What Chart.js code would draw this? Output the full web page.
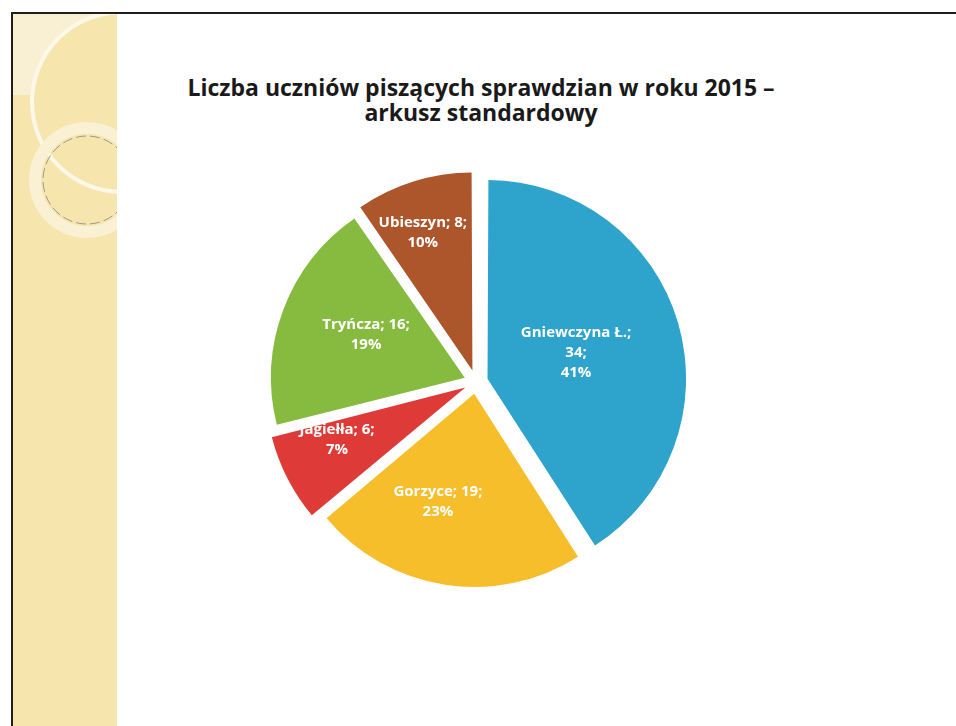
<!DOCTYPE html>
<html>
<head>
<meta charset="utf-8">
<script src="https://cdn.jsdelivr.net/npm/chart.js@4/dist/chart.umd.min.js"></script>
<style>
  html, body { margin: 0; padding: 0; background: #ffffff; }
  body { width: 956px; height: 726px; position: relative; overflow: hidden; }
  #strip { position: absolute; left: 13px; top: 13px; width: 104px; height: 713px; background: #f6e5ad; overflow: hidden; }
  #deco { position: absolute; left: 0; top: 0; }
  #vline { position: absolute; left: 11px; top: 12px; width: 2px; height: 714px; background: #1e1e1e; }
  #hline { position: absolute; left: 11px; top: 12px; width: 945px; height: 2px; background: #1e1e1e; }
  #title { position: absolute; left: 81px; top: 75px; width: 800px; text-align: center;
           font-family: "Open Sans", Lato, sans-serif; font-weight: bold; font-size: 23px; line-height: 25px; color: #1a1a1a; }
  #chartBox { position: absolute; left: 236px; top: 142px; width: 480px; height: 480px; }
</style>
</head>
<body>
<div id="strip">
  <svg id="deco" width="104" height="713" xmlns="http://www.w3.org/2000/svg">
    <path d="M0 0 H90 A90 90 0 0 0 19 82 L0 82 Z" fill="#f9f0d4"/>
    <circle cx="109" cy="89" r="90" fill="none" stroke="#fdf8ea" stroke-width="4"/>
    <circle cx="74" cy="167" r="52" fill="none" stroke="#faf0d3" stroke-width="12"/>
    <circle cx="74" cy="167" r="44" fill="none" stroke="#9c9a8c" stroke-width="1" stroke-dasharray="10 4"/>
  </svg>
</div>
<div id="vline"></div>
<div id="hline"></div>
<div id="title">Liczba uczniów piszących sprawdzian w roku 2015 –<br>arkusz standardowy</div>
<div id="chartBox"><canvas id="c" width="480" height="480"></canvas></div>
<script>
const categories = ["Gniewczyna Ł.", "Gorzyce", "Jagiełła", "Tryńcza", "Ubieszyn"];
const students = [34, 19, 6, 16, 8];
const sliceColors = ["#2ea3cb", "#f7be2c", "#de3a38", "#86bb3f", "#ad552b"];
// label placement (layout only): fraction of radius, and angular shift (deg) from slice bisector
const labelRadiusFrac = [0.54, 0.65, 0.78, 0.62, 0.82];
const labelAngleShift = [0, 9, 4.5, 2.7, -2.3];

const total = students.reduce((a, b) => a + b, 0);

const labelPlugin = {
  id: 'sliceLabels',
  afterDatasetsDraw(chart) {
    const ctx = chart.ctx;
    const meta = chart.getDatasetMeta(0);
    ctx.save();
    ctx.fillStyle = '#ffffff';
    ctx.font = 'bold 15px "Open Sans", Lato, sans-serif';
    ctx.textAlign = 'center';
    ctx.textBaseline = 'middle';
    meta.data.forEach((arc, i) => {
      const p = arc.getProps(['x', 'y', 'startAngle', 'endAngle', 'outerRadius'], true);
      const mid = (p.startAngle + p.endAngle) / 2 + labelAngleShift[i] * Math.PI / 180;
      const d = labelRadiusFrac[i] * p.outerRadius;
      const cx = p.x + Math.cos(mid) * d;
      const cy = p.y + Math.sin(mid) * d;
      const v = chart.data.datasets[0].data[i];
      const pct = Math.round(v / total * 100) + '%';
      const name = chart.data.labels[i];
      const one = name + '; ' + v + ';';
      let lines;
      if (ctx.measureText(one).width > 130) lines = [name + ';', v + ';', pct];
      else lines = [one, pct];
      const lh = 20;
      lines.forEach((t, k) => {
        ctx.fillText(t, cx, cy + (k - (lines.length - 1) / 2) * lh);
      });
    });
    ctx.restore();
  }
};

new Chart(document.getElementById('c'), {
  type: 'pie',
  data: {
    labels: categories,
    datasets: [{
      data: students,
      backgroundColor: sliceColors,
      borderWidth: 0,
      offset: 48,
      radius: 193,
      clip: false
    }]
  },
  options: {
    responsive: false,
    animation: false,
    layout: { padding: 0 },
    plugins: { legend: { display: false }, tooltip: { enabled: false }, title: { display: false } }
  },
  plugins: [labelPlugin]
});
</script>
</body>
</html>
